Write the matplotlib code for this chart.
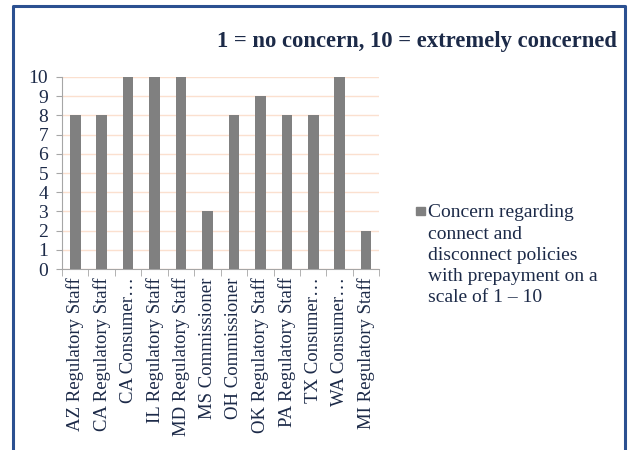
from matplotlib import pyplot as plt
from matplotlib.patches import Rectangle
import numpy as np

plt.rcParams['font.family'] = ['Liberation Serif', 'DejaVu Serif']

# data
categories = ["AZ Regulatory Staff", "CA Regulatory Staff", "CA Consumer\u2026",
              "IL Regulatory Staff", "MD Regulatory Staff", "MS Commissioner",
              "OH Commissioner", "OK Regulatory Staff", "PA Regulatory Staff",
              "TX Consumer\u2026", "WA Consumer\u2026", "MI Regulatory Staff"]
values = [8, 8, 10, 10, 10, 3, 8, 9, 8, 8, 10, 2]
series_name = ("Concern regarding\nconnect and\ndisconnect policies\n"
               "with prepayment on a\nscale of 1 \u2013 10")
title = "1 = no concern, 10 = extremely concerned"

text_color = '#1c2a48'
bar_color = '#808080'
grid_color = '#fbe0cf'
axis_color = '#a6a6a6'

fig = plt.figure(figsize=(6.36, 4.5), dpi=100)
ax = fig.add_axes([0.0975, 0.402, 0.499, 0.427])

x = np.arange(len(categories))
ax.bar(x, values, width=0.4, color=bar_color, zorder=3)

ax.set_xlim(-0.5, len(categories) - 0.5)
ax.set_ylim(0, 10)
ax.set_yticks(range(0, 11))
ax.tick_params(axis='y', labelsize=14, colors=axis_color, labelcolor=text_color,
               length=4, pad=6)
ax.yaxis.grid(True, color=grid_color, linewidth=1, zorder=0)

# category labels at bar centres, tick marks at category boundaries
ax.set_xticks(x)
ax.set_xticklabels(categories, rotation=90, fontsize=13.5, color=text_color)
ax.tick_params(axis='x', length=0, pad=6)
ax.set_xticks(np.arange(-0.5, len(categories)), minor=True)
ax.tick_params(axis='x', which='minor', length=5, colors=axis_color)

for side in ['top', 'right']:
    ax.spines[side].set_visible(False)
ax.spines['left'].set_color(axis_color)
ax.spines['bottom'].set_color(axis_color)

# title
fig.text(0.970, 0.908, title, fontsize=16.3, fontweight='bold', color=text_color,
         ha='right', va='center')

# legend drawn by hand
fig.patches.append(Rectangle((0.654, 0.522), 0.0142, 0.019, transform=fig.transFigure,
                             color=bar_color, figure=fig))
fig.text(0.673, 0.546, series_name, fontsize=14, color=text_color,
         ha='left', va='top', linespacing=1.33)

# blue frame
frame_color = '#2b5091'
fig.add_artist(plt.Line2D([0.02, 0.02, 0.983, 0.983], [0.0, 0.986, 0.986, 0.0],
                          transform=fig.transFigure, color=frame_color, linewidth=2.2))

fig.savefig("out.png", dpi=100)
